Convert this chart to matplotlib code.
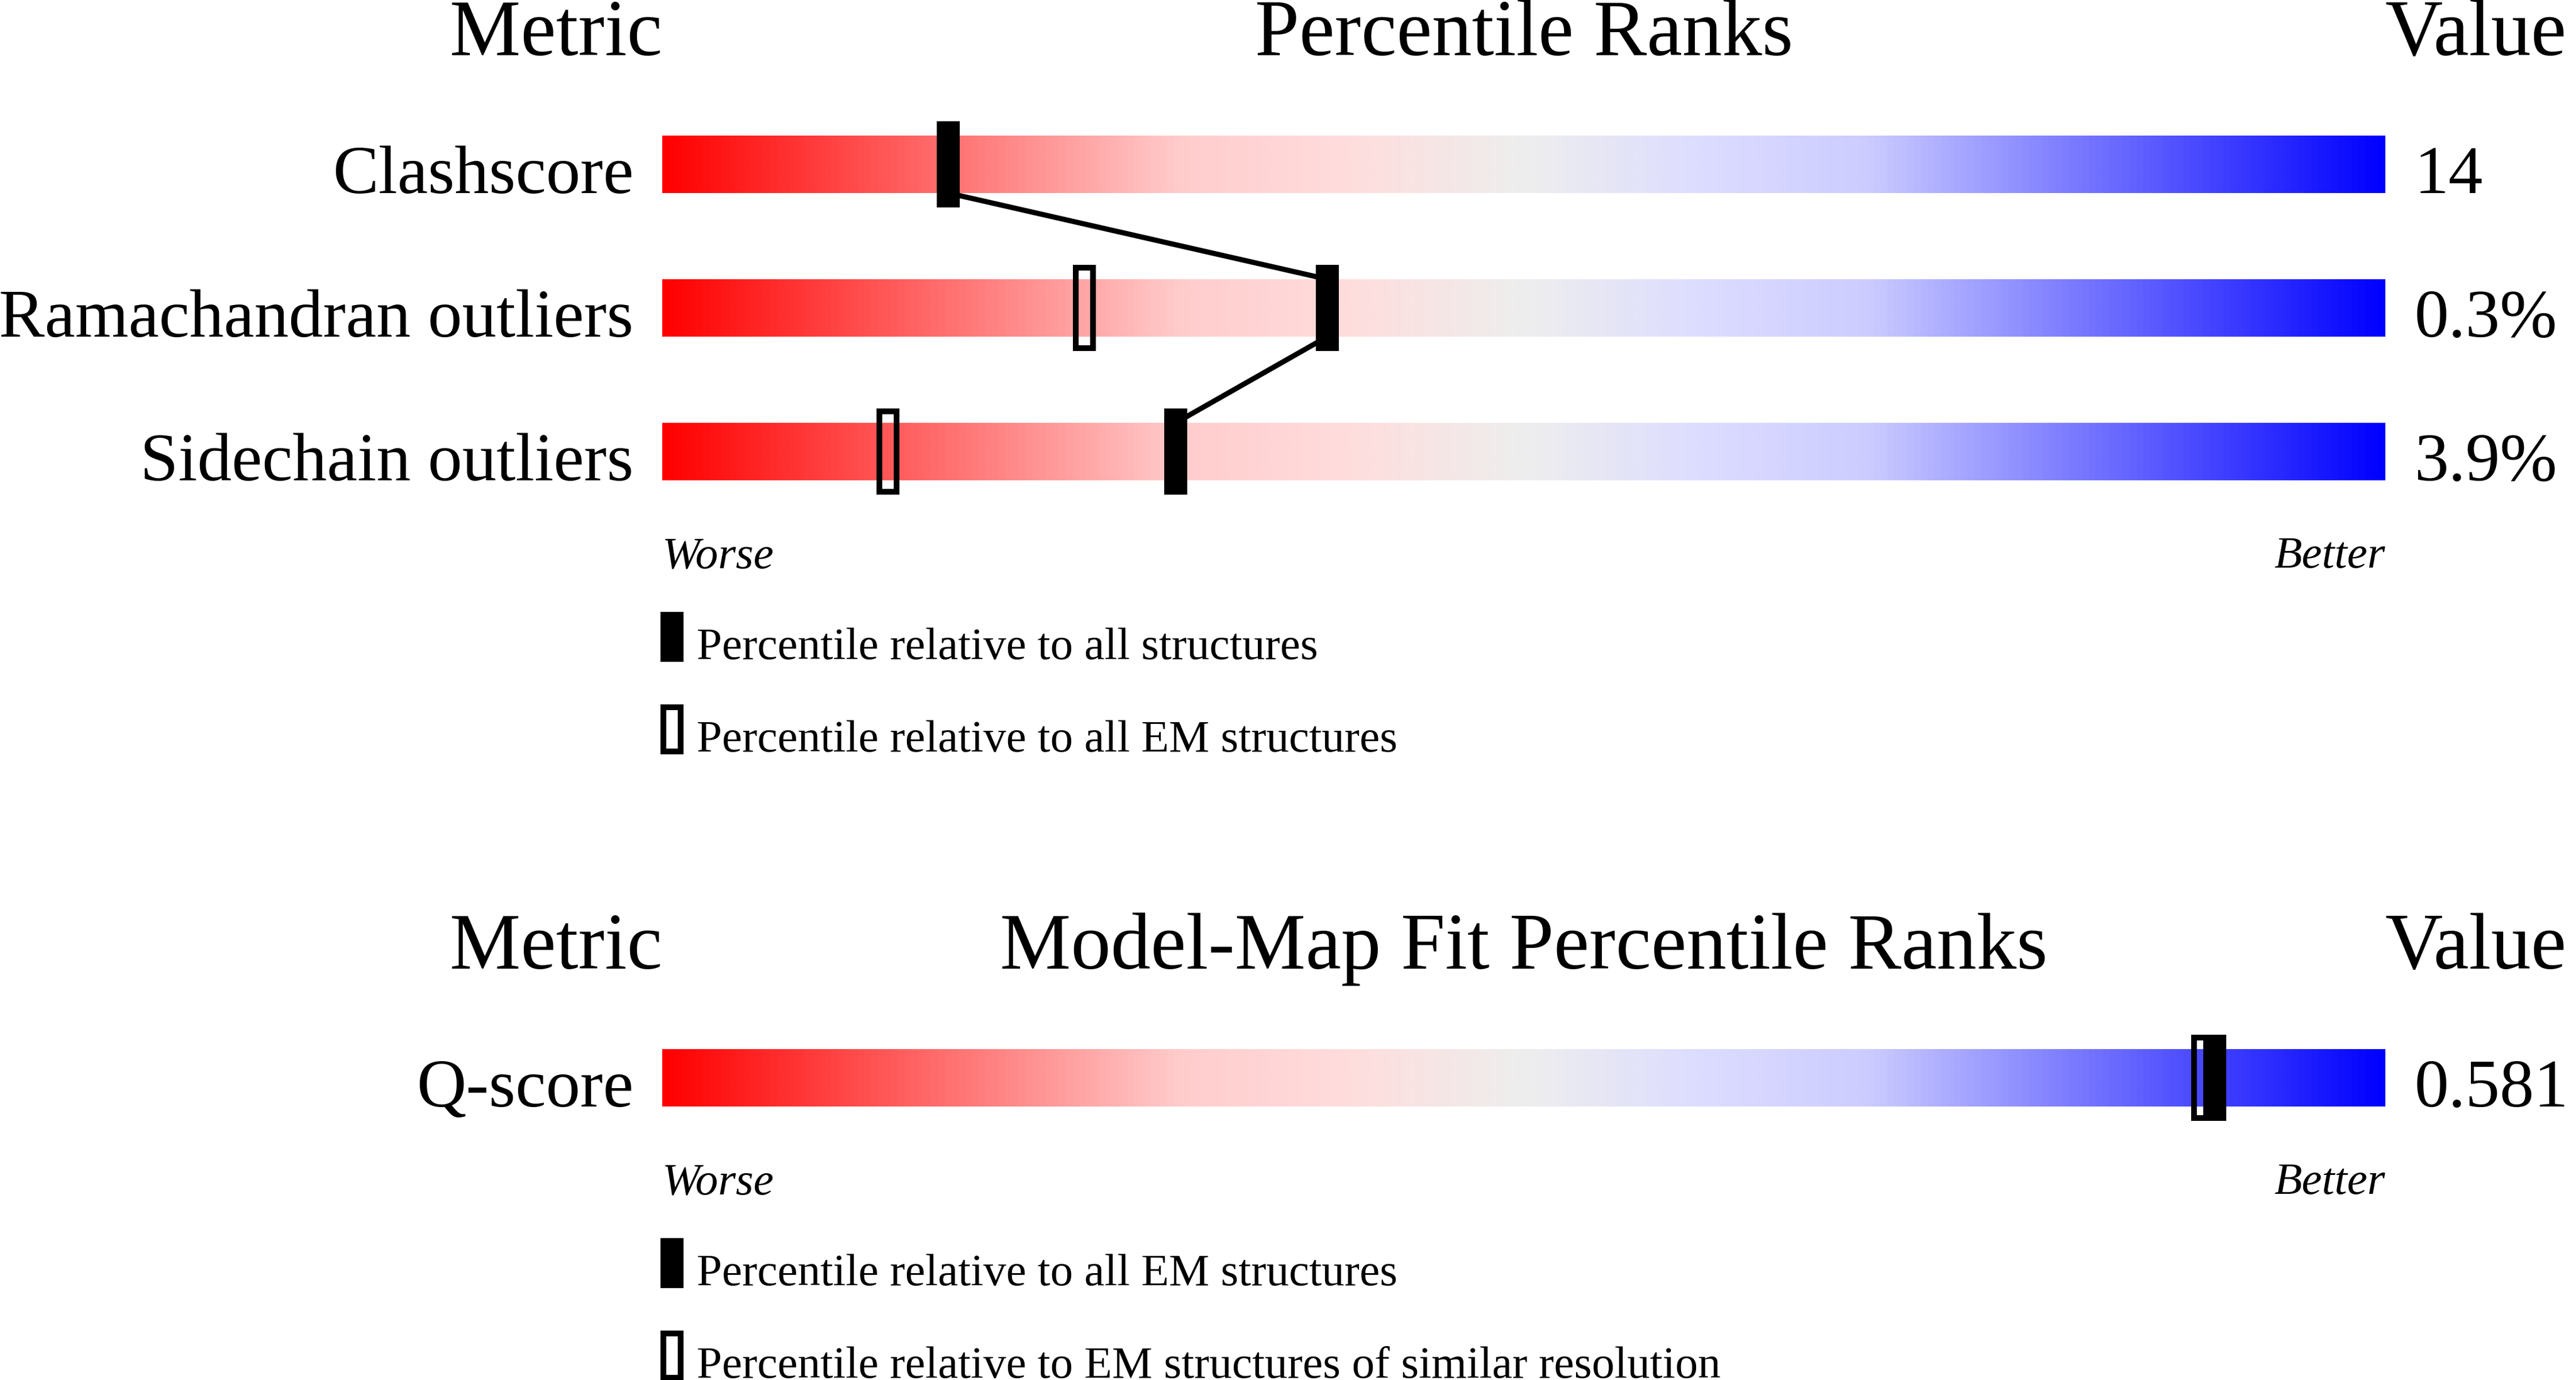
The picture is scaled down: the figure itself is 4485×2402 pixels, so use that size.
import numpy as np
import matplotlib
matplotlib.use("Agg")
import matplotlib.pyplot as plt
from matplotlib.colors import LinearSegmentedColormap
from matplotlib.patches import Rectangle

# ---------------- data ----------------
top_metrics = ["Clashscore", "Ramachandran outliers", "Sidechain outliers"]
top_values = ["14", "0.3%", "3.9%"]
top_pct_all = [16.6, 38.6, 29.8]          # percentile relative to all structures
top_pct_em = [None, 24.5, 13.1]           # percentile relative to all EM structures

bot_metrics = ["Q-score"]
bot_values = ["0.581"]
bot_pct_all = [90.1]                      # relative to all EM structures
bot_pct_sim = [89.4]                      # relative to EM structures of similar resolution

top_legend = ["Percentile relative to all structures",
              "Percentile relative to all EM structures"]
bot_legend = ["Percentile relative to all EM structures",
              "Percentile relative to EM structures of similar resolution"]

# ---------------- style ----------------
W, H = 4485, 2402
fig = plt.figure(figsize=(W / 100, H / 100), dpi=100)
FONT = "Liberation Serif"
BAR_L, BAR_W = 1153, 3000
PXU = BAR_W / 100.0          # pixels per percentile unit

ax = fig.add_axes([BAR_L / W, 0, BAR_W / W, 1])
ax.set_xlim(0, 100)
ax.set_ylim(H, 0)
ax.axis("off")

cmap = LinearSegmentedColormap.from_list(
    "val",
    [(0.0, "#ff0000"), (0.30, "#ffcccc"), (0.40, "#ffdddd"), (0.50, "#eeeeee"),
     (0.60, "#ddddff"), (0.70, "#ccccff"), (1.0, "#0000ff")])
grad = np.linspace(0, 1, 1024)[None, :]

BAR_H = 100
EXT = 25
MW = 40 / PXU                 # marker width in data units
OPEN_LW = 10 * 0.72           # 10 px border


def draw_bar(ytop):
    ax.imshow(grad, cmap=cmap, aspect="auto", extent=(0, 100, ytop + BAR_H, ytop),
              interpolation="bilinear", zorder=1)


def filled_marker(p, ytop):
    ax.add_patch(Rectangle((p - MW / 2, ytop - EXT), MW, BAR_H + 2 * EXT,
                           facecolor="black", edgecolor="none", zorder=4, clip_on=False))


def open_marker(p, ytop, h=BAR_H + 2 * EXT):
    inset_x = 5 / PXU
    ax.add_patch(Rectangle((p - MW / 2 + inset_x, ytop - EXT + 5), MW - 2 * inset_x, h - 10,
                           facecolor="none", edgecolor="black", linewidth=OPEN_LW,
                           joinstyle="miter", zorder=5, clip_on=False))


def text_kw(size, **kw):
    d = dict(fontfamily=FONT, fontsize=size, color="black", clip_on=False)
    d.update(kw)
    return d


HEAD = 100
LAB = 86
SMALL = 57
LABEL_X = -50 / PXU
VALUE_X = 100 + 51 / PXU


def section(head_y, bar_tops, metrics, values, pct_a, pct_b, title, legend, connect):
    ax.text(0, head_y, "Metric", ha="right", va="baseline", **text_kw(HEAD))
    ax.text(50, head_y, title, ha="center", va="baseline", **text_kw(HEAD))
    ax.text(100, head_y, "Value", ha="left", va="baseline", **text_kw(HEAD))
    for yt, m, v in zip(bar_tops, metrics, values):
        draw_bar(yt)
        ax.text(LABEL_X, yt + BAR_H, m, ha="right", va="baseline", **text_kw(LAB))
        ax.text(VALUE_X, yt + BAR_H, v, ha="left", va="baseline", **text_kw(LAB))
    if connect:
        for i in range(len(bar_tops) - 1):
            ax.plot([pct_a[i], pct_a[i + 1]], [bar_tops[i] + BAR_H, bar_tops[i + 1]],
                    color="black", lw=6.5, zorder=3, solid_capstyle="butt")
    for yt, pa, pb in zip(bar_tops, pct_a, pct_b):
        if pa is not None:
            filled_marker(pa, yt)
        if pb is not None:
            open_marker(pb, yt)
    base = bar_tops[-1] + BAR_H
    ax.text(0, base + 152, "Worse", ha="left", va="baseline", style="italic", **text_kw(SMALL))
    ax.text(100, base + 152, "Better", ha="right", va="baseline", style="italic", **text_kw(SMALL))
    # legend
    lx = 0.55
    ly1 = base + 229
    ax.add_patch(Rectangle((lx - MW / 2, ly1), MW, 87, facecolor="black",
                           edgecolor="none", clip_on=False, zorder=4))
    ax.text(2.0, ly1 + 82, legend[0], ha="left", va="baseline", **text_kw(SMALL))
    ly2 = ly1 + 161
    inset_x = 5 / PXU
    ax.add_patch(Rectangle((lx - MW / 2 + inset_x, ly2 + 5), MW - 2 * inset_x, 77,
                           facecolor="none", edgecolor="black", linewidth=OPEN_LW,
                           joinstyle="miter", clip_on=False, zorder=5))
    ax.text(2.0, ly2 + 82, legend[1], ha="left", va="baseline", **text_kw(SMALL))


section(96, [236, 486, 736], top_metrics, top_values, top_pct_all, top_pct_em,
        "Percentile Ranks", top_legend, True)
section(1686, [1826], bot_metrics, bot_values, bot_pct_all, bot_pct_sim,
        "Model-Map Fit Percentile Ranks", bot_legend, False)

fig.savefig("out.png", dpi=100, facecolor="white")
